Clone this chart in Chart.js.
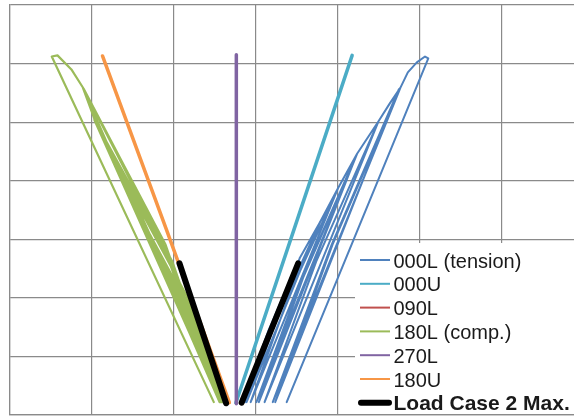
<!DOCTYPE html>
<html>
<head>
<meta charset="utf-8">
<script src="https://cdn.jsdelivr.net/npm/chart.js@4.4.1/dist/chart.umd.min.js"></script>
<style>
  html, body { margin: 0; padding: 0; background: #fff; overflow: hidden; }
  #wrap { width: 600px; height: 417px; }
</style>
</head>
<body>
<div id="wrap"><canvas id="chart" width="600" height="417"></canvas></div>
<script>
// values, in grid units (1 = one grid cell, no tick labels on the original)
const gridTicks = [0, 1, 2, 3, 4, 5, 6, 7];

const tension000LX = [2.84, 3.16, 3.54, 2.87, 3.17, 3.54, 3.79, 2.89, 3.29, 3.79, 4.01, 2.94, 3.41, 4.01, 4.24,
  3.01, 3.57, 4.23, 3.04, 3.58, 4.24, 4.50, 3.11, 3.74, 4.50, 4.64, 4.77, 3.21, 3.93, 4.75, 3.24, 3.94, 4.77,
  4.86, 4.97, 5.07, 5.11, 3.38];
const tension000LY = [0.22, 1.45, 2.68, 0.22, 1.45, 2.68, 3.30, 0.22, 1.76, 3.30, 3.88, 0.22, 2.05, 3.88, 4.46,
  0.22, 2.34, 4.43, 0.22, 2.34, 4.46, 5.01, 0.22, 2.62, 5.01, 5.32, 5.59, 0.22, 2.91, 5.56, 0.22, 2.91, 5.59,
  5.85, 6.02, 6.12, 6.09, 0.22];

const upper000UX = [2.76, 3.47, 4.18];
const upper000UY = [0.21, 3.17, 6.14];

const lower090LX = [2.765, 2.765];
const lower090LY = [0.20, 6.05];

const comp180LX = [2.66, 2.37, 1.95, 2.64, 2.35, 1.95, 1.71, 2.62, 2.26, 1.71, 1.46, 2.61, 2.16, 1.46, 1.22,
  2.60, 2.04, 1.22, 2.59, 2.04, 1.22, 1.03, 2.57, 1.95, 1.03, 2.58, 1.98, 1.04, 0.89, 2.56, 1.87, 0.89,
  2.57, 1.90, 0.90, 0.75, 0.58, 0.51, 2.49];
const comp180LY = [0.22, 1.31, 2.39, 0.22, 1.31, 2.39, 3.08, 0.22, 1.65, 3.08, 3.85, 0.22, 2.03, 3.85, 4.53,
  0.22, 2.38, 4.53, 0.22, 2.38, 4.53, 5.04, 0.22, 2.63, 5.04, 0.22, 2.63, 5.02, 5.59, 0.22, 2.91, 5.59,
  0.22, 2.91, 5.57, 5.90, 6.14, 6.12, 0.22];

const lower270LX = [2.765, 2.765];
const lower270LY = [0.19, 6.15];

const upper180UX = [2.68, 1.91, 1.13];
const upper180UY = [0.21, 3.17, 6.13];

const loadCase2X = [2.07, 2.64, null, 2.83, 3.52];
const loadCase2Y = [2.59, 0.20, null, 0.21, 2.59];

const seriesLabels = ['000L (tension)', '000U', '090L', '180L (comp.)', '270L', '180U', 'Load Case 2 Max.'];
const seriesColors = ['#4f81bd', '#4bacc6', '#c0504d', '#9bbb59', '#8064a2', '#f79646', '#000000'];

function toPoints(xs, ys) {
  return xs.map((x, i) => ({ x: x, y: ys[i] }));
}

const seriesData = [
  toPoints(tension000LX, tension000LY),
  toPoints(upper000UX, upper000UY),
  toPoints(lower090LX, lower090LY),
  toPoints(comp180LX, comp180LY),
  toPoints(lower270LX, lower270LY),
  toPoints(upper180UX, upper180UY),
  toPoints(loadCase2X, loadCase2Y)
];
const lineWidths = [2, 3.5, 2, 2.2, 3.5, 3.5, 6];
const drawOrder = [5, 3, 6, 4, 1, 2, 0]; // lower number ends up on top

const gridColor = '#8a8a8a';

// legend sits in a white box over the lower right of the plot
const boxLegend = {
  id: 'boxLegend',
  afterDraw(chart) {
    const ctx = chart.ctx;
    const area = chart.chartArea;
    const left = 355, top = 243;
    ctx.save();
    ctx.fillStyle = '#ffffff';
    ctx.fillRect(left, top, chart.width - left, area.bottom - top - 1);
    chart.data.datasets.forEach((ds, i) => {
      const y = 260 + i * 23.8;
      const thick = ds.borderWidth > 4;
      ctx.strokeStyle = ds.borderColor;
      ctx.lineWidth = thick ? 6 : 2;
      ctx.lineCap = thick ? 'round' : 'butt';
      ctx.beginPath();
      ctx.moveTo(thick ? 361 : 360, y);
      ctx.lineTo(thick ? 389 : 390, y);
      ctx.stroke();
      ctx.fillStyle = '#1a1a1a';
      ctx.font = (thick ? 'bold 21px' : '20px') + ' "Liberation Sans", Arial, sans-serif';
      ctx.textBaseline = 'alphabetic';
      ctx.fillText(ds.label, 393.5, y + 7.5);
    });
    ctx.restore();
  }
};

const ctx = document.getElementById('chart').getContext('2d');
new Chart(ctx, {
  type: 'scatter',
  data: {
    datasets: seriesLabels.map((label, i) => ({
      label: label,
      data: seriesData[i],
      showLine: true,
      borderColor: seriesColors[i],
      backgroundColor: seriesColors[i],
      borderWidth: lineWidths[i],
      borderCapStyle: 'round',
      borderJoinStyle: 'round',
      pointRadius: 0,
      pointHoverRadius: 0,
      spanGaps: false,
      order: drawOrder[i]
    }))
  },
  options: {
    responsive: false,
    animation: false,
    layout: { padding: { left: 10, top: 5, right: 17, bottom: 2 } },
    plugins: {
      legend: { display: false },
      tooltip: { enabled: false }
    },
    scales: {
      x: {
        type: 'linear',
        min: 0,
        max: 7,
        afterBuildTicks: s => { s.ticks = gridTicks.map(v => ({ value: v })); },
        ticks: { display: false },
        grid: { color: gridColor, lineWidth: 1.2, drawTicks: false },
        border: { color: gridColor, width: 1.2 }
      },
      y: {
        type: 'linear',
        min: 0,
        max: 7,
        afterBuildTicks: s => { s.ticks = gridTicks.map(v => ({ value: v })); },
        ticks: { display: false },
        grid: { color: gridColor, lineWidth: 1.2, drawTicks: false },
        border: { color: gridColor, width: 1.2 }
      }
    }
  },
  plugins: [boxLegend]
});
</script>
</body>
</html>
